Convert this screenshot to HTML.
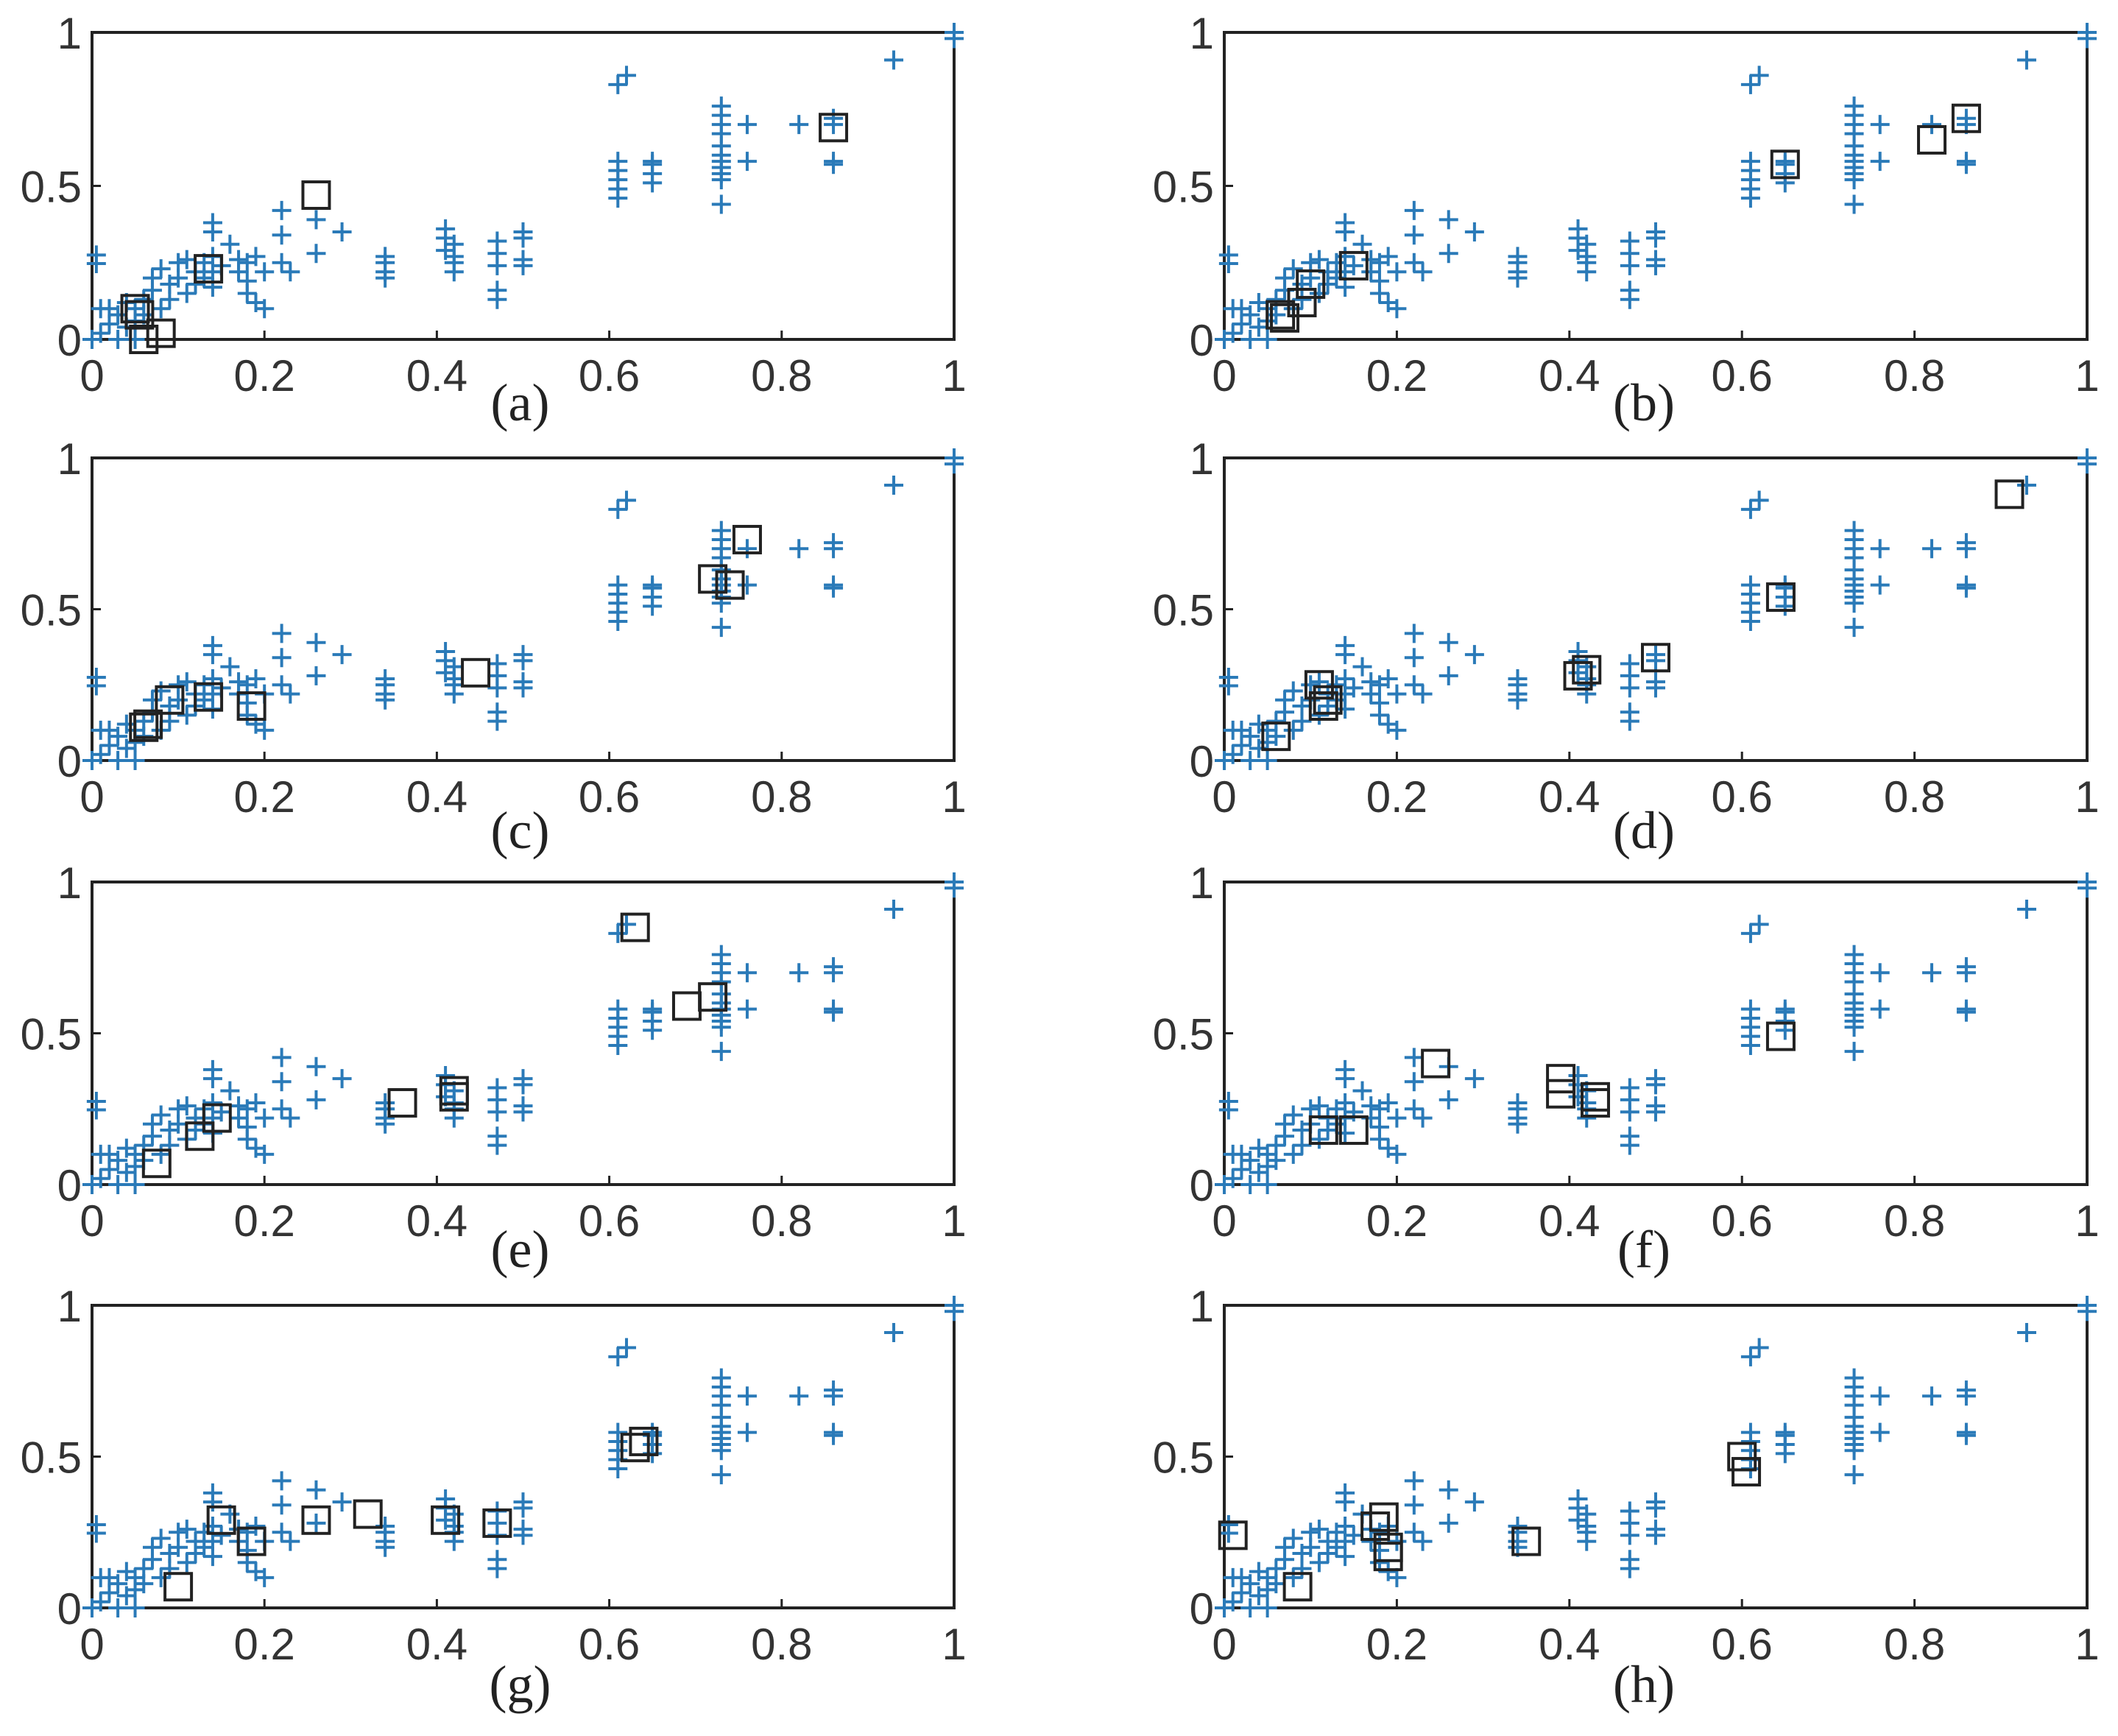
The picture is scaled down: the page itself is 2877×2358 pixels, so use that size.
<!DOCTYPE html>
<html><head><meta charset="utf-8"><style>
html,body{margin:0;padding:0;background:#fff;}
svg{display:block;}
</style></head><body>
<svg id="fig" width="2877" height="2358" viewBox="0 0 2877 2358" xmlns="http://www.w3.org/2000/svg"></svg>
<script>
const baseX=[0,0.01,0.02,0.02,0.03,0.04,0.04,0.05,0.05,0.06,0.06,0.07,0.07,0.08,0.08,0.09,0.09,0.1,0.1,0.11,0.11,0.12,0.12,0.13,0.13,0.14,0.14,0.14,0.15,0.17,0.17,0.18,0.18,0.18,0.19,0.2,0.2,0.19,0.01,0.03,0.05,0.005,0.005,0.14,0.14,0.16,0.22,0.22,0.22,0.23,0.26,0.26,0.29,0.34,0.34,0.34,0.34,0.41,0.41,0.41,0.42,0.42,0.42,0.42,0.47,0.47,0.47,0.47,0.47,0.5,0.5,0.5,0.5,0.61,0.62,0.61,0.61,0.61,0.61,0.61,0.65,0.65,0.65,0.65,0.73,0.73,0.73,0.73,0.73,0.73,0.73,0.73,0.73,0.73,0.73,0.76,0.76,0.82,0.86,0.86,0.86,0.86,0.93,1.0,1.0];
const baseY=[0,0.02,0.05,0.1,0.08,0.04,0.12,0.1,0.06,0.13,0.08,0.16,0.2,0.1,0.23,0.18,0.13,0.25,0.2,0.15,0.26,0.22,0.18,0.25,0.2,0.27,0.22,0.17,0.24,0.26,0.22,0.25,0.19,0.15,0.12,0.1,0.22,0.27,0.1,0.0,0.0,0.275,0.247,0.38,0.35,0.31,0.42,0.34,0.25,0.22,0.39,0.28,0.35,0.27,0.25,0.22,0.2,0.36,0.33,0.29,0.31,0.27,0.25,0.22,0.32,0.28,0.24,0.16,0.13,0.35,0.33,0.26,0.24,0.83,0.86,0.58,0.55,0.52,0.49,0.46,0.58,0.57,0.54,0.51,0.76,0.73,0.7,0.67,0.63,0.6,0.58,0.56,0.54,0.52,0.44,0.7,0.58,0.7,0.72,0.7,0.58,0.57,0.91,1.0,0.98];
const boxX={a:[0.05,0.055,0.06,0.08,0.135,0.26,0.86],b:[0.065,0.07,0.09,0.1,0.15,0.65,0.82,0.86],c:[0.06,0.065,0.09,0.135,0.185,0.445,0.72,0.74,0.76],d:[0.06,0.11,0.115,0.12,0.41,0.42,0.5,0.645,0.91],e:[0.075,0.125,0.145,0.36,0.42,0.42,0.63,0.69,0.72],f:[0.115,0.15,0.245,0.39,0.39,0.43,0.43,0.645],g:[0.1,0.15,0.185,0.26,0.32,0.41,0.47,0.63,0.64],h:[0.01,0.085,0.175,0.185,0.19,0.19,0.35,0.6,0.605]};
const boxY={a:[0.1,0.08,0.0,0.02,0.23,0.47,0.69],b:[0.08,0.07,0.12,0.18,0.24,0.57,0.65,0.72],c:[0.11,0.12,0.2,0.21,0.18,0.29,0.6,0.58,0.73],d:[0.08,0.25,0.18,0.2,0.28,0.3,0.34,0.54,0.88],e:[0.07,0.16,0.22,0.27,0.29,0.31,0.85,0.59,0.62],f:[0.18,0.18,0.4,0.35,0.3,0.29,0.27,0.49],g:[0.07,0.29,0.22,0.29,0.31,0.29,0.28,0.53,0.55],h:[0.24,0.07,0.27,0.3,0.17,0.2,0.22,0.5,0.45]};
const xTicks=[0,0.2,0.4,0.6,0.8,1];
const xTickLabels=["0","0.2","0.4","0.6","0.8","1"];
const yTicks=[0,0.5,1];
const yTickLabels=["0","0.5","1"];
const panels=["a","b","c","d","e","f","g","h"];

const NS="http://www.w3.org/2000/svg";
const svg=document.getElementById('fig');
function mk(t,a,p){const e=document.createElementNS(NS,t);for(const k in a)e.setAttribute(k,a[k]);(p||svg).appendChild(e);return e;}
const cols=[[125,1296],[1663,2835]];
const rows=[[44,461],[622,1033],[1198,1609],[1773,2184]];
const labY=[547,1128,1697,2288];
panels.forEach((p,i)=>{
  const c=cols[i%2], r=rows[Math.floor(i/2)];
  const g=mk('g',{});
  
  
  const sx=v=>c[0]+v*(c[1]-c[0]);
  const sy=v=>r[1]-v*(r[1]-r[0]);
  const frame=mk('rect',{x:c[0],y:r[0],width:c[1]-c[0],height:r[1]-r[0],fill:'none',stroke:'#222','stroke-width':4},g);
  
  
  xTicks.forEach((t,j)=>{
    mk('line',{x1:sx(t),x2:sx(t),y1:r[1],y2:r[1]-12,stroke:'#222','stroke-width':3},g);
    const tx=mk('text',{x:sx(t),y:r[1]+70,'font-family':'Liberation Sans, sans-serif','font-size':60,'text-anchor':'middle',fill:'#333'},g);
    tx.textContent=xTickLabels[j];
    
    
  });
  yTicks.forEach((t,j)=>{
    mk('line',{x1:c[0],x2:c[0]+12,y1:sy(t),y2:sy(t),stroke:'#222','stroke-width':3},g);
    const tx=mk('text',{x:c[0]-14,y:sy(t)+22,'font-family':'Liberation Sans, sans-serif','font-size':60,'text-anchor':'end',fill:'#333'},g);
    tx.textContent=yTickLabels[j];
    
    
  });
  baseX.forEach((x,k)=>{
    const X=sx(x),Y=sy(baseY[k]);
    const pt=mk('path',{d:`M${X-13},${Y}H${X+13}M${X},${Y-13}V${Y+13}`,stroke:'#2a7ab8','stroke-width':4},g);
    
    
  });
  boxX[p].forEach((x,k)=>{
    const X=sx(x),Y=sy(boxY[p][k]);
    const b=mk('rect',{x:X-18,y:Y-18,width:36,height:36,fill:'none',stroke:'#222','stroke-width':4},g);
    
    
  });
  const lab=mk('text',{x:(c[0]+c[1])/2+(i%2?-16:-4),y:labY[Math.floor(i/2)]+24,'font-family':'Liberation Serif, serif','font-size':72,'text-anchor':'middle',fill:'#222'},g);
  lab.textContent='('+p+')';
  
  
});
</script>
</body></html>
